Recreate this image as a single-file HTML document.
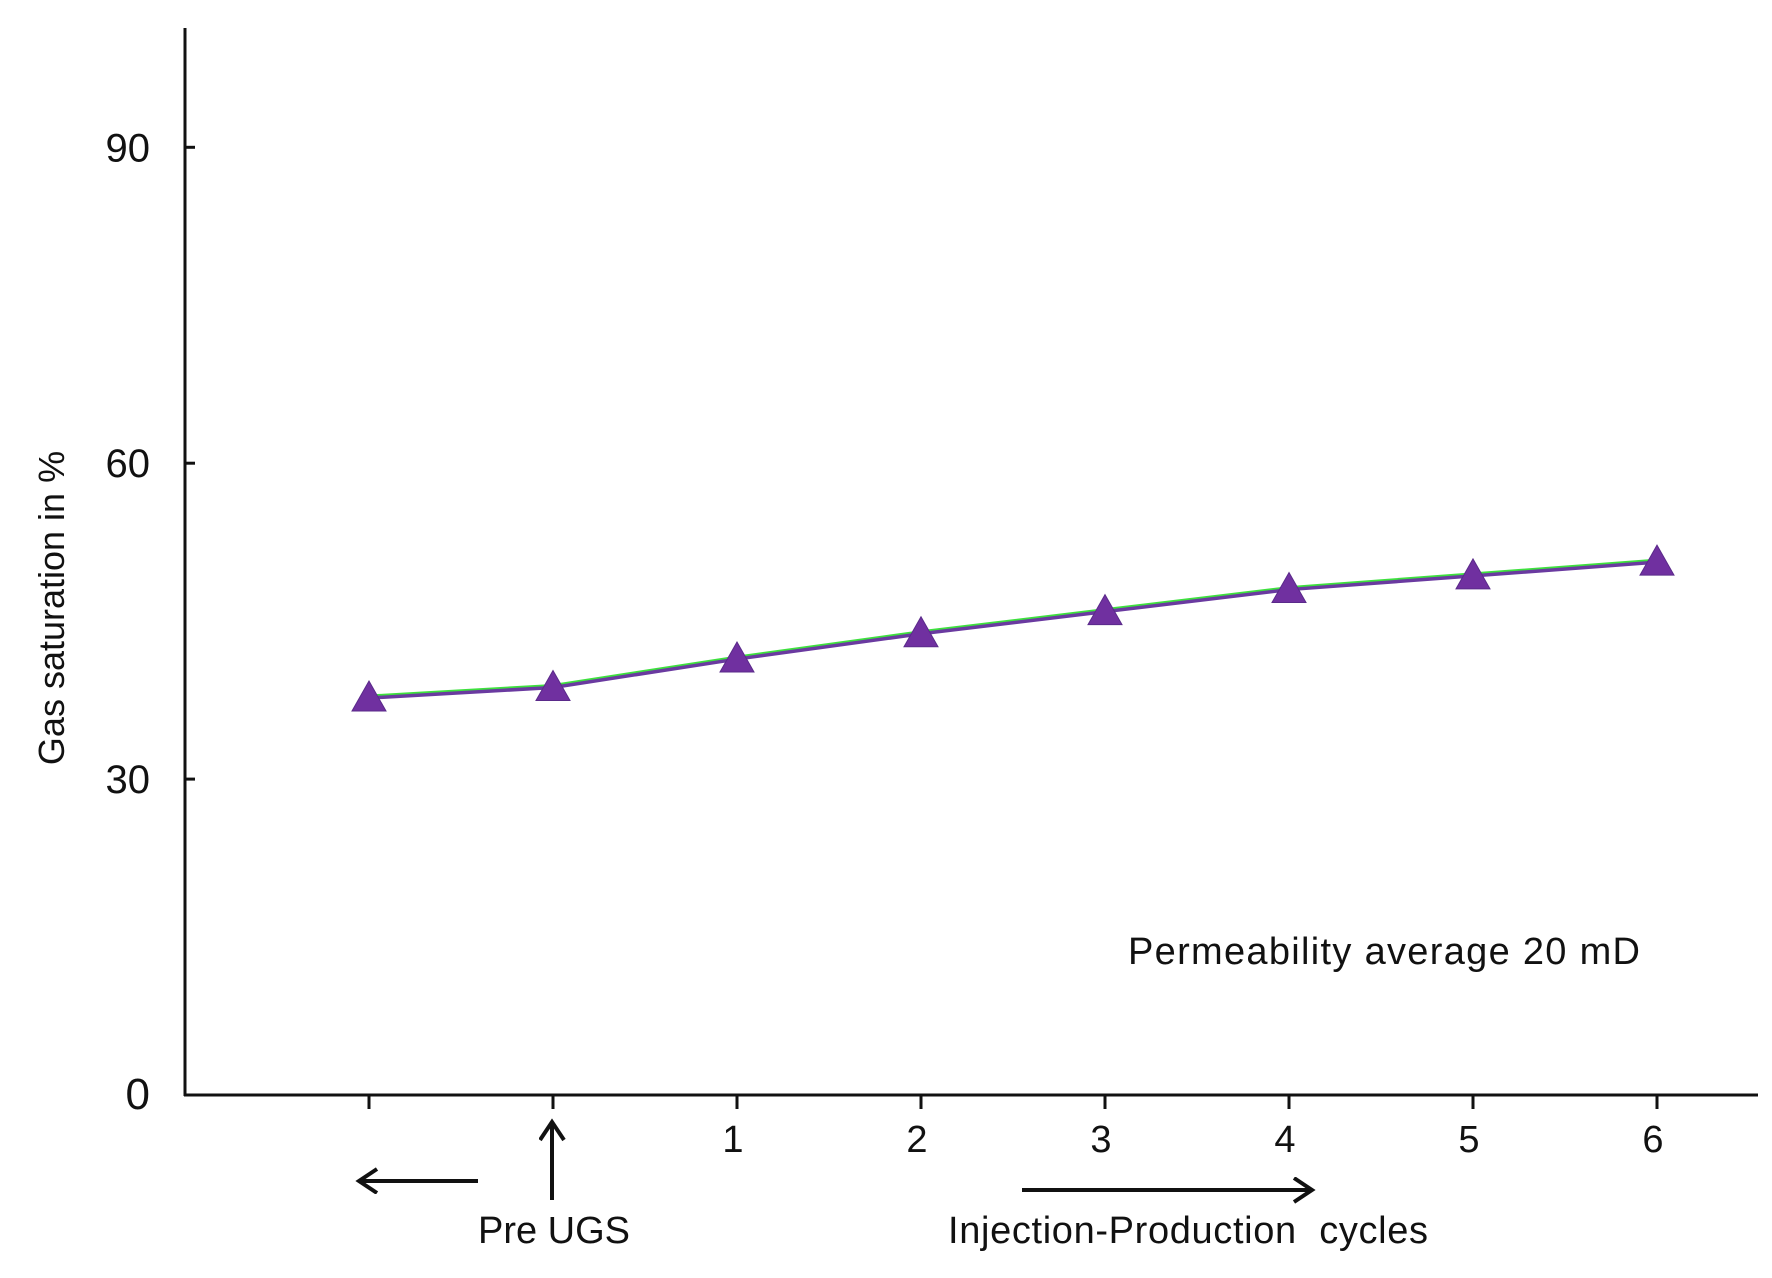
<!DOCTYPE html>
<html><head><meta charset="utf-8"><style>
body{margin:0;background:#fff;}
svg text{font-family:"Liberation Sans",Arial,sans-serif;fill:#111;}
</style></head><body>
<svg width="1772" height="1273" viewBox="0 0 1772 1273">
<defs>
<marker id="ah" markerWidth="30" markerHeight="30" refX="20" refY="13" orient="auto" markerUnits="userSpaceOnUse"><path d="M2,1 L20,13 L2,25" fill="none" stroke="#111" stroke-width="4"/></marker>
</defs>
<g id="axes"></g>
<g id="series"></g>
<text transform="translate(64,608) rotate(-90)" text-anchor="middle" font-size="36">Gas saturation in %</text>
<text x="1128" y="964" font-size="38" textLength="512">Permeability average 20 mD</text>
<line x1="478" y1="1181" x2="359" y2="1181" stroke="#111" stroke-width="4" marker-end="url(#ah)"/>
<line x1="552" y1="1200" x2="552" y2="1122" stroke="#111" stroke-width="4" marker-end="url(#ah)"/>
<text x="554" y="1243" text-anchor="middle" font-size="38">Pre UGS</text>
<line x1="1022" y1="1190" x2="1312" y2="1190" stroke="#111" stroke-width="4" marker-end="url(#ah)"/>
<text x="948" y="1243" font-size="38" textLength="480" xml:space="preserve">Injection-Production  cycles</text>
</svg>
<script>
const categories=["","Pre UGS","1","2","3","4","5","6"];
const tickLabels=["","","1","2","3","4","5","6"];
const gasSaturation=[37.7,38.7,41.4,43.8,45.9,48.0,49.3,50.6];
const yTicks=[0,30,60,90];
const NS="http://www.w3.org/2000/svg";
const X0=369,DX=184,Y0=1095,PY=10.53;
const xs=i=>X0+i*DX, ys=v=>Y0-v*PY;
function mk(t,a,p){const e=document.createElementNS(NS,t);for(const k in a)e.setAttribute(k,a[k]);p.appendChild(e);return e;}
const ax=document.getElementById('axes');
let e=mk('line',{x1:185,y1:28,x2:185,y2:1096,stroke:'#111','stroke-width':3},ax);


e=mk('line',{x1:184,y1:1095,x2:1758,y2:1095,stroke:'#111','stroke-width':3},ax);


yTicks.forEach(v=>{
 const t=mk('line',{x1:185,y1:ys(v),x2:195,y2:ys(v),stroke:'#111','stroke-width':3},ax);
 
 
 const l=mk('text',{x:150,y:ys(v)+14,'text-anchor':'end','font-size':v===0?44:40},ax);
 l.textContent=v;
 
 
});
categories.forEach((c,i)=>{
 const t=mk('line',{x1:xs(i),y1:1095,x2:xs(i),y2:1109,stroke:'#111','stroke-width':3},ax);
 
 
 if(tickLabels[i]){const l=mk('text',{x:xs(i)-4,y:1152,'text-anchor':'middle','font-size':38},ax);
 l.textContent=tickLabels[i];
 
 }
});
const sg=document.getElementById('series');
const pts=gasSaturation.map((v,i)=>xs(i)+','+ys(v)).join(' ');
e=mk('polyline',{points:gasSaturation.map((v,i)=>xs(i)+','+(ys(v)-2)).join(' '),fill:'none',stroke:'#3ee03e','stroke-width':3},sg);


e=mk('polyline',{points:pts,fill:'none',stroke:'#6a3aa0','stroke-width':3.5},sg);


gasSaturation.forEach((v,i)=>{
 const x=xs(i),y=ys(v);
 const p=mk('polygon',{points:`${x},${y-17} ${x-17},${y+13} ${x+17},${y+13}`,fill:'#7030a0',stroke:'#5a2a8a','stroke-width':1},sg);
 
 
});
</script>
</body></html>
